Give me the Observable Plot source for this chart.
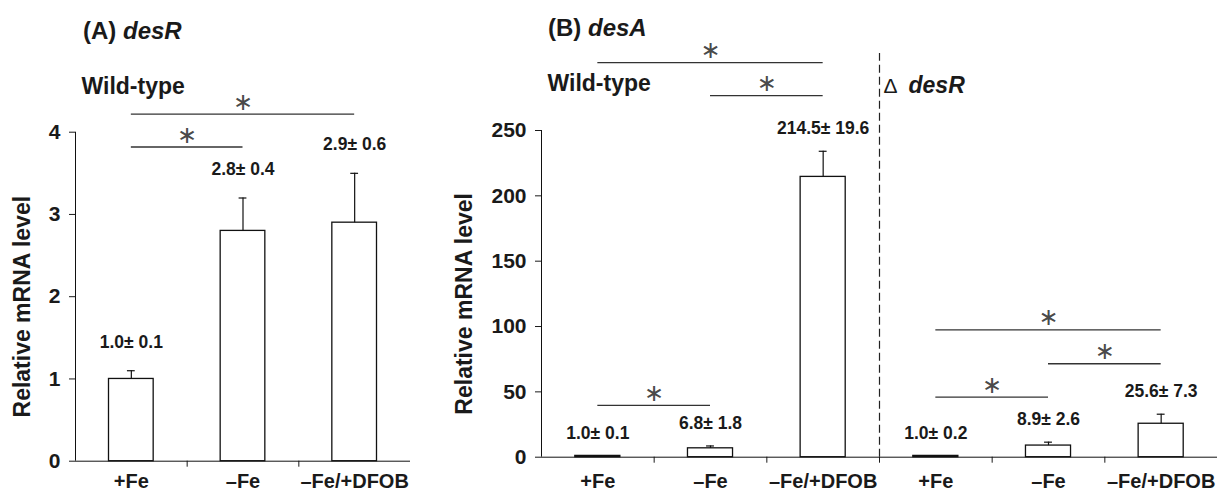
<!DOCTYPE html>
<html><head><meta charset="utf-8">
<script src="https://cdn.jsdelivr.net/npm/d3@7"></script>
<script src="https://cdn.jsdelivr.net/npm/@observablehq/plot@0.6"></script>
<style>
body{margin:0;background:#fff;}
#wrap{position:relative;width:1217px;height:491px;font-family:"Liberation Sans",Arial,sans-serif;color:#1a1a1a;}
.ttl{position:absolute;font-weight:bold;font-size:24px;white-space:nowrap;line-height:1;}
#panelA{position:absolute;left:0;top:0;}
#panelB{position:absolute;left:430px;top:0;}
</style></head><body>
<div id="wrap">
  <div id="panelA"></div><div id="panelB"></div>
  <div class="ttl" style="left:83px;top:19px">(A) <i>desR</i></div>
  <div class="ttl" style="left:548px;top:16px">(B) <i>desA</i></div>
</div>
<script>
// ---- data ----
const conditions = ["+Fe", "–Fe", "–Fe/+DFOB"];
const desR_wt_mean = [1.0, 2.8, 2.9];
const desR_wt_sd   = [0.1, 0.4, 0.6];
const desA_wt_mean = [1.0, 6.8, 214.5];
const desA_wt_sd   = [0.1, 1.8, 19.6];
const desA_mut_mean = [1.0, 8.9, 25.6];
const desA_mut_sd   = [0.2, 2.6, 7.3];
const yTicksA = [0, 1, 2, 3, 4];
const yTicksB = [0, 50, 100, 150, 200, 250];
// significance brackets (bar index from/to, bracket height in data units)
const sigA = [{from: 0, to: 1, level: 3.82}, {from: 0, to: 2, level: 4.22}];
const sigB = [
  {from: 0, to: 1, level: 39.6}, {from: 0, to: 2, level: 302}, {from: 1, to: 2, level: 276.7},
  {from: 3, to: 4, level: 45.9}, {from: 4, to: 5, level: 71.5}, {from: 3, to: 5, level: 97.5}
];
// strain group labels (start index, baseline height in data units)
const groupsA = [{prefix: "", label: "Wild-type", italic: false, start: 0, level: 4.47}];
const groupsB = [
  {prefix: "", label: "Wild-type", italic: false, start: 0, level: 280.6},
  {prefix: "Δ", label: "desR", italic: true, start: 3, level: 279}
];
const yTitle = "Relative mRNA level";

// ---- build rows ----
function rows(means, sds, offset) {
  return means.map((m, k) => ({i: k + offset, label: conditions[k], mean: m, sd: sds[k]}));
}
const dataA = rows(desR_wt_mean, desR_wt_sd, 0);
const dataB = rows(desA_wt_mean, desA_wt_sd, 0).concat(rows(desA_mut_mean, desA_mut_sd, 3));

const FONT = "Liberation Sans, Arial, sans-serif";
const INK = "#1a1a1a";

function panel(o) {
  const n = o.data.length;
  const half = 0.2, cap = 0.035;
  const plain = o.groups.filter(g => !g.prefix);
  const prefixed = o.groups.filter(g => g.prefix);
  const marks = [
    Plot.axisY({ticks: o.yTicks, tickSize: 6, tickPadding: 9, tickFormat: d => String(d),
      fontSize: 21, fontWeight: "bold", label: null, fill: INK}),
    Plot.axisX({ticks: d3.range(1, n), tickSize: 6, tickFormat: () => "", label: null}),
    Plot.axisX({ticks: o.data.map(d => d.i + 0.5), tickSize: 0, tickPadding: o.xPad,
      tickFormat: v => conditions[Math.floor(v) % 3], fontSize: 20, fontWeight: "bold", label: null, fill: INK}),
    Plot.ruleX([0], {stroke: "#111"}),
    Plot.ruleY([0], {stroke: "#111"}),
  ];
  if (o.divider != null) {
    marks.push(Plot.ruleX([o.divider], {y1: 0, y2: o.dividerTop, stroke: "#222", strokeWidth: 1.2, strokeDasharray: "8,4"}));
  }
  marks.push(
    Plot.rectY(o.data, {x1: d => d.i + 0.5 - half, x2: d => d.i + 0.5 + half, y1: 0, y2: "mean", fill: "white", stroke: "#111", strokeWidth: 1.3}),
    Plot.ruleX(o.data, {x: d => d.i + 0.5, y1: "mean", y2: d => d.mean + d.sd, stroke: "#111", strokeWidth: 1.2}),
    Plot.ruleY(o.data, {x1: d => d.i + 0.5 - cap, x2: d => d.i + 0.5 + cap, y: d => d.mean + d.sd, stroke: "#111", strokeWidth: 1.2}),
    Plot.text(o.data, {x: d => d.i + 0.5, y: d => d.mean + d.sd, text: d => `${d.mean.toFixed(1)}± ${d.sd.toFixed(1)}`,
      lineAnchor: "bottom", dy: -o.labelGap, fontSize: 17.5, fontWeight: "bold", fill: INK}),
    Plot.ruleY(o.sig, {x1: d => d.from + 0.5, x2: d => d.to + 0.5, y: "level", stroke: "#333", strokeWidth: 1.3}),
    Plot.text(o.sig, {x: d => (d.from + d.to) / 2 + 0.5, y: "level", text: () => "∗", dy: -12,
      fontSize: 24, fontFamily: "DejaVu Sans", fill: "#4a4a4a"}),
    Plot.text(plain, {x: "start", y: "level", text: "label", textAnchor: "start", lineAnchor: "bottom", dx: 6,
      fontSize: 23, fontWeight: "bold", fill: INK}),
    Plot.text(prefixed, {x: "start", y: "level", text: "prefix", textAnchor: "start", lineAnchor: "bottom", dx: 4,
      fontSize: 21, fill: INK}),
    Plot.text(prefixed, {x: "start", y: "level", text: "label", textAnchor: "start", lineAnchor: "bottom", dx: 29,
      fontSize: 23, fontWeight: "bold", fontStyle: "italic", fill: INK}),
    Plot.text([yTitle], {frameAnchor: "left", textAnchor: "middle", rotate: -90, lineAnchor: "top",
      dx: -o.titleOffset, dy: 10, fontSize: 23, fontWeight: "bold", fill: INK})
  );
  return Plot.plot({
    width: o.width, height: 491,
    marginLeft: o.marginLeft, marginRight: o.marginRight, marginTop: o.marginTop, marginBottom: o.marginBottom,
    style: {background: "transparent", fontFamily: FONT, overflow: "visible", color: INK},
    x: {domain: [0, n], axis: null},
    y: {domain: o.yDomain, axis: null},
    marks
  });
}

const plotA = panel({
  data: dataA, yDomain: [0, 4], yTicks: yTicksA, sig: sigA, groups: groupsA,
  width: 430, marginLeft: 75, marginRight: 20, marginTop: 131.7, marginBottom: 30.3,
  xPad: 12.3, labelGap: 23, titleOffset: 62
});
const plotB = panel({
  data: dataB, yDomain: [0, 250], yTicks: yTicksB, sig: sigB, groups: groupsB,
  width: 787, marginLeft: 111, marginRight: 0, marginTop: 130, marginBottom: 34.3,
  xPad: 16.8, labelGap: 17, titleOffset: 86, divider: 3, dividerTop: 309
});
document.getElementById("panelA").append(plotA);
document.getElementById("panelB").append(plotB);
</script>
</body></html>
